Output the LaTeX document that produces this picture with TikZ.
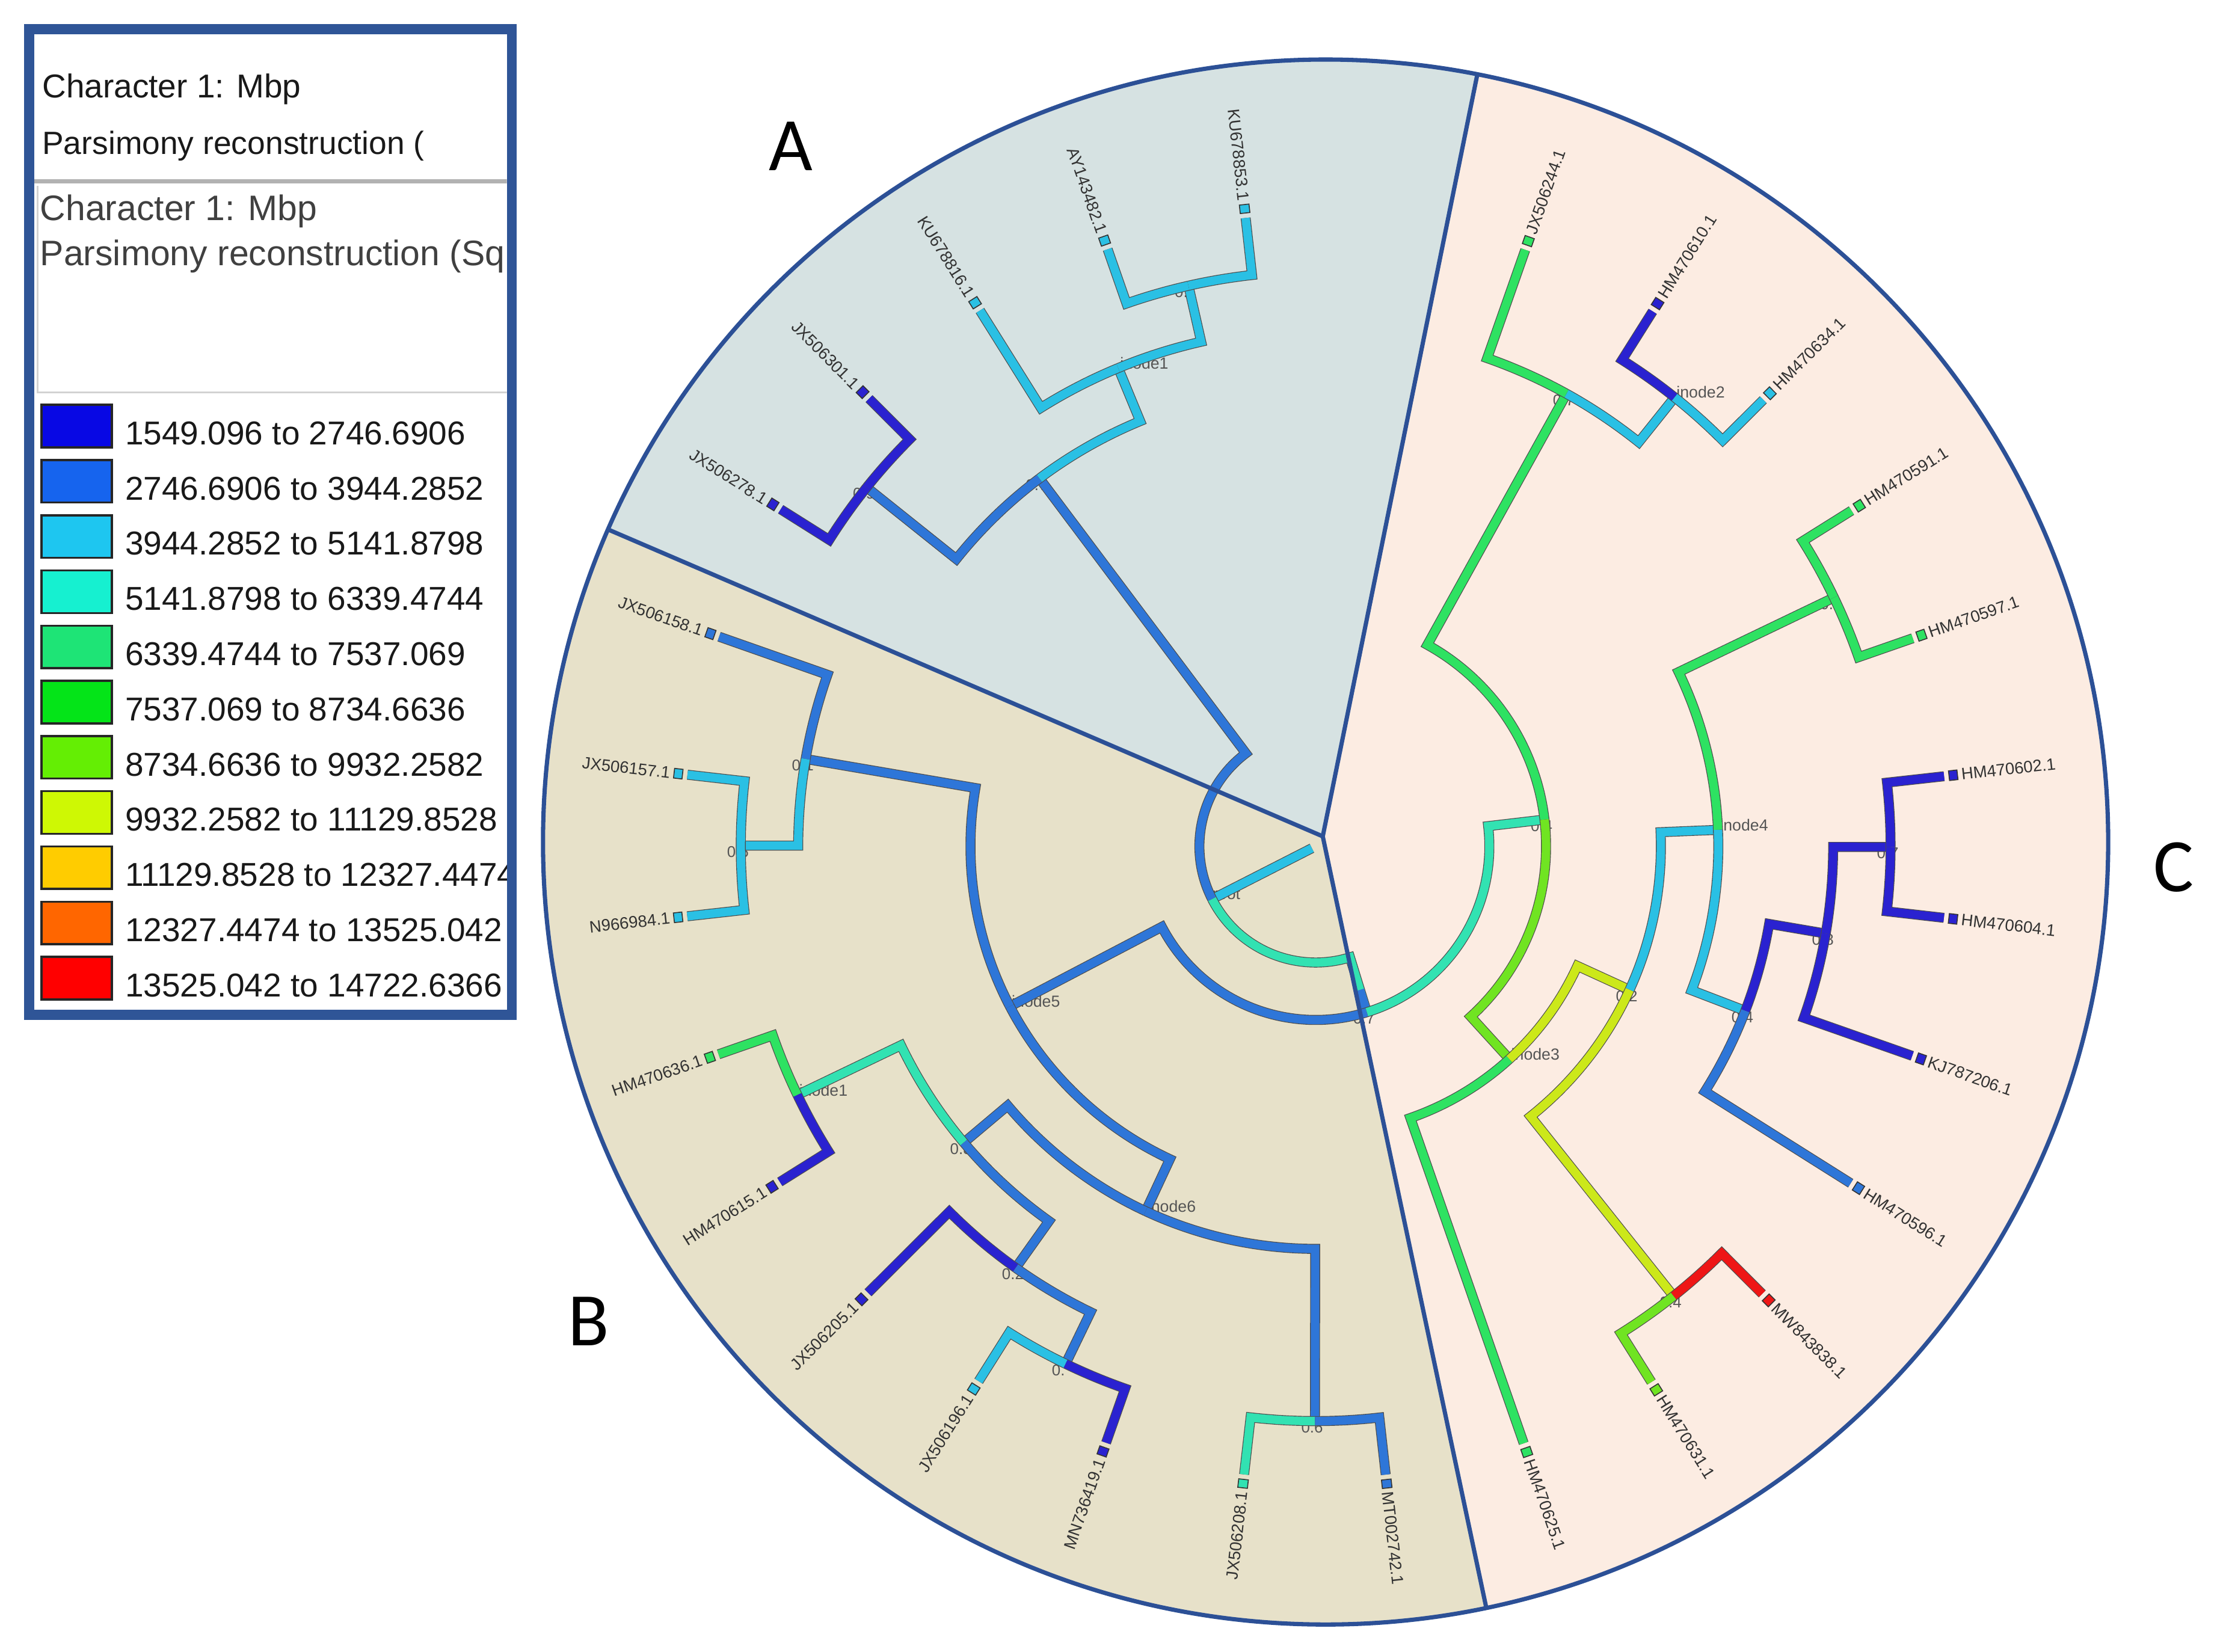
\documentclass[tikz,border=0pt]{standalone}
\usepackage{fontspec}
\setmainfont{Liberation Sans}
\newfontfamily\carlito{Carlito}
\usetikzlibrary{calc}
\definecolor{tdark}{RGB}{42,34,208}
\definecolor{tblue}{RGB}{46,118,216}
\definecolor{tcyan}{RGB}{42,192,228}
\definecolor{tteal}{RGB}{50,226,178}
\definecolor{tgreen}{RGB}{46,226,98}
\definecolor{tlime}{RGB}{112,228,34}
\definecolor{tyellow}{RGB}{204,232,26}
\definecolor{tred}{RGB}{238,22,22}
\definecolor{secA}{RGB}{214,226,226}
\definecolor{secB}{RGB}{231,225,201}
\definecolor{secC}{RGB}{252,236,226}
\definecolor{secline}{RGB}{44,80,150}
\definecolor{legborder}{RGB}{47,85,151}
\definecolor{labgray}{RGB}{50,50,50}
\definecolor{nodegray}{RGB}{85,85,85}
\definecolor{lg1}{RGB}{8,8,228}
\definecolor{lg2}{RGB}{22,100,238}
\definecolor{lg3}{RGB}{30,198,240}
\definecolor{lg4}{RGB}{22,240,208}
\definecolor{lg5}{RGB}{30,228,118}
\definecolor{lg6}{RGB}{4,228,24}
\definecolor{lg7}{RGB}{100,238,4}
\definecolor{lg8}{RGB}{206,248,4}
\definecolor{lg9}{RGB}{255,204,0}
\definecolor{lg10}{RGB}{255,102,0}
\definecolor{lg11}{RGB}{255,0,0}
% edge: colour, parent angle, parent radius, child angle, child radius (image angles)
\newcommand\tedge[5]{\draw[br=#1] ({-(#2)}:#3) arc[start angle={-(#2)}, end angle={-(#4)}, radius=#3] -- ({-(#4)}:#5);}
\newcommand\leafR[4]{%
  \node[lbox=#3, rotate={-(#2)}] (#1) at ({-(#2)}:452.5) {};
  \node[ltext, rotate={-(#2)}, anchor=west] (#1t) at ({-(#2)}:458) {#4};}
\newcommand\leafL[4]{%
  \node[lbox=#3, rotate={-(#2)}] (#1) at ({-(#2)}:452.5) {};
  \node[ltext, rotate={180-(#2)}, anchor=east] (#1t) at ({-(#2)}:458) {#4};}
\begin{document}
\begin{tikzpicture}[x=0.6pt,y=0.6pt,
  br/.style={draw=#1, line width=3.6pt, preaction={draw=black!70, line width=4.2pt}},
  lbox/.style={draw=black!80, line width=0.4pt, fill=#1, inner sep=0pt, minimum width=3.6pt, minimum height=4.1pt},
  ltext/.style={font=\fontsize{7}{8}\selectfont, text=labgray, inner sep=0pt},
  numlab/.style={font=\fontsize{6.6}{7}\selectfont, text=nodegray, inner sep=0pt, anchor=west, xshift=-6pt, yshift=-2.7pt},
  inlab/.style={font=\fontsize{6.8}{7}\selectfont, text=nodegray, inner sep=0pt, anchor=west, xshift=0.6pt, yshift=2.1pt},
  secl/.style={draw=secline, line width=1.8pt},
  bigl/.style={font=\carlito\fontsize{32}{34}\selectfont, inner sep=0pt},
  swatch/.style={draw=black!85, line width=0.9pt, minimum width=29.9pt, minimum height=18pt, inner sep=0pt},
  legtext/.style={anchor=west, inner sep=0pt, font=\fontsize{14}{16}\selectfont, text=black!90}]
\useasboundingbox (0,0) rectangle (1568,1165);
\fill[white] (0,0) rectangle (1568,1165);
% ---------- sectors ----------
\coordinate (J) at (933,575);
\coordinate (CC) at (935,571);
\coordinate (P1) at ($(CC)+(156.46:552)$);
\coordinate (P2) at ($(CC)+(78.82:552)$);
\coordinate (P3) at ($(CC)+(-78.15:552)$);
\fill[secA] (J) -- (P2) arc[start angle=78.82, end angle=156.46, radius=552] -- cycle;
\fill[secB] (J) -- (P1) arc[start angle=156.46, end angle=281.85, radius=552] -- cycle;
\fill[secC] (J) -- (P3) arc[start angle=-78.15, end angle=78.82, radius=552] -- cycle;
% ---------- tree ----------
\begin{scope}[shift={(928,568)}]
\coordinate (R) at ({-(152.975)}:82);
\coordinate (A0) at ({-(233.105)}:324.5);
\coordinate (A1) at ({-(218.64)}:405.5);
\coordinate (A2) at ({-(247.57)}:365);
\coordinate (A3) at ({-(257.215)}:405.5);
\coordinate (N07) at ({-(72.845)}:122.5);
\coordinate (B0) at ({-(152.35)}:243.5);
\coordinate (B1) at ({-(189.715)}:365);
\coordinate (B2) at ({-(114.98)}:284);
\coordinate (B3) at ({-(180.07)}:405.5);
\coordinate (B4) at ({-(139.895)}:324.5);
\coordinate (B5) at ({-(90.07)}:405.5);
\coordinate (B6) at ({-(125.43)}:365);
\coordinate (B7) at ({-(154.36)}:405.5);
\coordinate (B8) at ({-(115.785)}:405.5);
\coordinate (C0) at ({-(-6.66)}:162.5);
\coordinate (C1) at ({-(-61)}:365);
\coordinate (C2) at ({-(47.685)}:203);
\coordinate (C3) at ({-(-51.36)}:405.5);
\coordinate (C4) at ({-(24.58)}:243.5);
\coordinate (C6) at ({-(-2.34)}:284);
\coordinate (C7) at ({-(51.5)}:405.5);
\coordinate (C8) at ({-(-25.64)}:405.5);
\coordinate (C9) at ({-(20.96)}:324.5);
\coordinate (C10) at ({-(9.715)}:365);
\coordinate (C11) at ({-(0.07)}:405.5);
% node labels (under the branches)
\node[inlab, xshift=-0.6pt] (Rl) at (R) {root};
\node[numlab] (A0l) at (A0) {0.7};
\node[numlab] (A1l) at (A1) {0.9};
\node[inlab] (A2l) at (A2) {inode1};
\node[numlab] (A3l) at (A3) {0.7};
\node[numlab] (N07l) at (N07) {0.7};
\node[inlab] (B0l) at (B0) {inode5};
\node[numlab] (B1l) at (B1) {0.1};
\node[inlab] (B2l) at (B2) {inode6};
\node[numlab] (B3l) at (B3) {0.5};
\node[numlab] (B4l) at (B4) {0.8};
\node[numlab] (B5l) at (B5) {0.6};
\node[numlab] (B6l) at (B6) {0.2};
\node[inlab] (B7l) at (B7) {inode1};
\node[numlab] (B8l) at (B8) {0.};
\node[numlab] (C0l) at (C0) {0.4};
\node[numlab] (C1l) at (C1) {0.7};
\node[inlab] (C2l) at (C2) {inode3};
\node[inlab] (C3l) at (C3) {inode2};
\node[numlab] (C4l) at (C4) {0.2};
\node[inlab] (C6l) at (C6) {inode4};
\node[numlab] (C7l) at (C7) {0.4};
\node[numlab] (C8l) at (C8) {0.9};
\node[numlab] (C9l) at (C9) {0.4};
\node[numlab] (C10l) at (C10) {0.8};
\node[numlab] (C11l) at (C11) {0.7};
% branches
\draw[br=tcyan] (R) -- ({-(152.975)}:3);
\tedge{tblue}{152.975}{82}{233.105}{324.5}
\tedge{tteal}{152.975}{82}{72.845}{122.5}
\draw[draw=tblue, line width=3.6pt] ({-(72.845)}:106) -- (N07);
\tedge{tblue}{233.105}{324.5}{218.64}{405.5}
\tedge{tcyan}{233.105}{324.5}{247.57}{365}
\tedge{tdark}{218.64}{405.5}{212.21}{446}
\tedge{tdark}{218.64}{405.5}{225.07}{446}
\tedge{tcyan}{247.57}{365}{237.93}{446}
\tedge{tcyan}{247.57}{365}{257.215}{405.5}
\tedge{tcyan}{257.215}{405.5}{250.79}{446}
\tedge{tcyan}{257.215}{405.5}{263.64}{446}
\tedge{tblue}{72.845}{122.5}{152.35}{243.5}
\tedge{tteal}{72.845}{122.5}{-6.66}{162.5}
\tedge{tblue}{152.35}{243.5}{189.715}{365}
\tedge{tblue}{152.35}{243.5}{114.98}{284}
\tedge{tblue}{189.715}{365}{199.36}{446}
\tedge{tcyan}{189.715}{365}{180.07}{405.5}
\tedge{tcyan}{180.07}{405.5}{186.5}{446}
\tedge{tcyan}{180.07}{405.5}{173.64}{446}
\tedge{tblue}{114.98}{284}{139.895}{324.5}
\tedge{tblue}{114.98}{284}{90.07}{405.5}
\tedge{tteal}{139.895}{324.5}{154.36}{405.5}
\tedge{tblue}{139.895}{324.5}{125.43}{365}
\tedge{tgreen}{154.36}{405.5}{160.79}{446}
\tedge{tdark}{154.36}{405.5}{147.93}{446}
\tedge{tdark}{125.43}{365}{135.07}{446}
\tedge{tblue}{125.43}{365}{115.785}{405.5}
\tedge{tcyan}{115.785}{405.5}{122.21}{446}
\tedge{tdark}{115.785}{405.5}{109.36}{446}
\tedge{tteal}{90.07}{405.5}{96.5}{446}
\tedge{tblue}{90.07}{405.5}{83.64}{446}
\tedge{tgreen}{-6.66}{162.5}{-61}{365}
\tedge{tlime}{-6.66}{162.5}{47.685}{203}
\tedge{tgreen}{-61}{365}{-70.64}{446}
\tedge{tcyan}{-61}{365}{-51.36}{405.5}
\tedge{tdark}{-51.36}{405.5}{-57.79}{446}
\tedge{tcyan}{-51.36}{405.5}{-44.93}{446}
\tedge{tgreen}{47.685}{203}{70.79}{446}
\tedge{tyellow}{47.685}{203}{24.58}{243.5}
\tedge{tcyan}{24.58}{243.5}{-2.34}{284}
\tedge{tyellow}{24.58}{243.5}{51.5}{405.5}
\tedge{tgreen}{-2.34}{284}{-25.64}{405.5}
\tedge{tcyan}{-2.34}{284}{20.96}{324.5}
\tedge{tgreen}{-25.64}{405.5}{-32.07}{446}
\tedge{tgreen}{-25.64}{405.5}{-19.21}{446}
\tedge{tdark}{20.96}{324.5}{9.715}{365}
\tedge{tblue}{20.96}{324.5}{32.21}{446}
\tedge{tdark}{9.715}{365}{0.07}{405.5}
\tedge{tdark}{9.715}{365}{19.36}{446}
\tedge{tdark}{0.07}{405.5}{-6.36}{446}
\tedge{tdark}{0.07}{405.5}{6.5}{446}
\tedge{tred}{51.5}{405.5}{45.07}{446}
\tedge{tlime}{51.5}{405.5}{57.93}{446}
% leaves
\leafR{L1}{6.5}{tdark}{HM470604.1}
\leafR{L2}{19.36}{tdark}{KJ787206.1}
\leafR{L3}{32.21}{tblue}{HM470596.1}
\leafR{L4}{45.07}{tred}{MW843838.1}
\leafR{L5}{57.93}{tlime}{HM470631.1}
\leafR{L6}{70.79}{tgreen}{HM470625.1}
\leafR{L7}{83.64}{tblue}{MT002742.1}
\leafL{L8}{96.5}{tteal}{JX506208.1}
\leafL{L9}{109.36}{tdark}{MN736419.1}
\leafL{L10}{122.21}{tcyan}{JX506196.1}
\leafL{L11}{135.07}{tdark}{JX506205.1}
\leafL{L12}{147.93}{tdark}{HM470615.1}
\leafL{L13}{160.79}{tgreen}{HM470636.1}
\leafL{L14}{173.64}{tcyan}{N966984.1}
\leafL{L15}{186.5}{tcyan}{JX506157.1}
\leafL{L16}{199.36}{tblue}{JX506158.1}
\leafL{L17}{212.21}{tdark}{JX506278.1}
\leafL{L18}{225.07}{tdark}{JX506301.1}
\leafL{L19}{237.93}{tcyan}{KU678816.1}
\leafL{L20}{250.79}{tcyan}{AY143482.1}
\leafL{L21}{263.64}{tcyan}{KU678853.1}
\leafR{L22}{-70.64}{tgreen}{JX506244.1}
\leafR{L23}{-57.79}{tdark}{HM470610.1}
\leafR{L24}{-44.93}{tcyan}{HM470634.1}
\leafR{L25}{-32.07}{tgreen}{HM470591.1}
\leafR{L26}{-19.21}{tgreen}{HM470597.1}
\leafR{L27}{-6.36}{tdark}{HM470602.1}
\end{scope}
% ---------- sector borders ----------
\draw[secl] (J) -- (P1);
\draw[secl] (J) -- (P2);
\draw[secl] (J) -- (P3);
\draw[secl] (CC) circle[radius=552];
\node[bigl] (labA) at (558,1062) {A};
\node[bigl] (labB) at (415,233) {B};
\node[bigl] (labC) at (1533,553) {C};
% ---------- legend ----------
\fill[white] (20.5,449) rectangle (361,1144.5);
\begin{scope}
\clip (24,452) rectangle (357.5,1141);
\node[legtext] (h1) at (29.5,1102) {Character 1: Mbp};
\node[legtext, font=\fontsize{13.6}{16}\selectfont] (h2) at (29.5,1062) {Parsimony reconstruction (};
\draw[gray!60, line width=1.8pt] (24,1037) -- (358,1037);
\draw[gray!35, line width=0.8pt] (26.5,1034) -- (26.5,888) -- (358,888);
\node[legtext, font=\fontsize{15}{17}\selectfont, text=black!75] (h3) at (28,1016) {Character 1: Mbp};
\node[legtext, font=\fontsize{15}{17}\selectfont, text=black!75] (h4) at (28,984) {Parsimony reconstruction (Sq};
\foreach \i/\col/\txt in {0/lg1/1549.096 to 2746.6906, 1/lg2/2746.6906 to 3944.2852, 2/lg3/3944.2852 to 5141.8798, 3/lg4/5141.8798 to 6339.4744, 4/lg5/6339.4744 to 7537.069, 5/lg6/7537.069 to 8734.6636, 6/lg7/8734.6636 to 9932.2582, 7/lg8/9932.2582 to 11129.8528, 8/lg9/11129.8528 to 12327.4474, 9/lg10/12327.4474 to 13525.042, 10/lg11/13525.042 to 14722.6366}{
  \pgfmathsetmacro\yt{879.4-38.94*\i}
  \node[swatch, fill=\col] (sw\i) at (54.1,\yt-15) {};
  \node[legtext] (lt\i) at (88,\yt-20) {\txt};
}
\end{scope}
\draw[draw=legborder, line width=4.2pt] (20.5,449) rectangle (361,1144.5);
\end{tikzpicture}
\end{document}
